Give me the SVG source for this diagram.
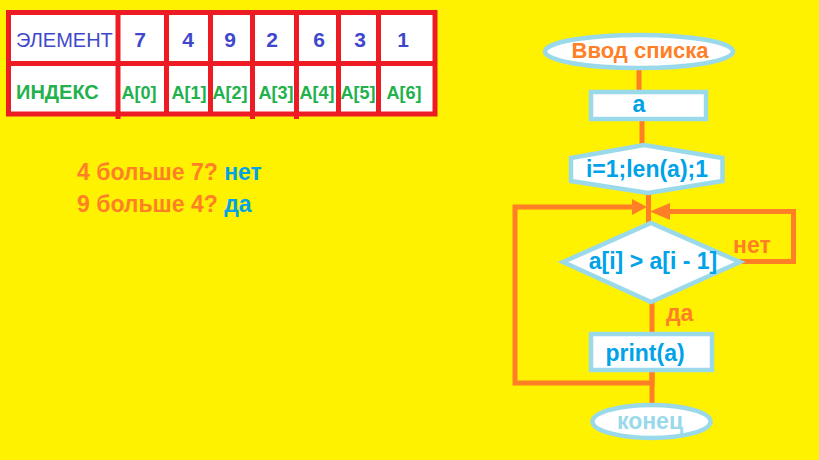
<svg xmlns="http://www.w3.org/2000/svg" width="819" height="460" viewBox="0 0 819 460">
<style>
text{font-family:"Liberation Sans",Arial,sans-serif;}
.num{font-size:21px;font-weight:bold;fill:#3f48cc;text-anchor:middle;}
.idx{font-size:18px;font-weight:bold;fill:#22b14c;text-anchor:middle;}
.grid{stroke:#ed1c24;stroke-width:5;fill:none;}
.shape{fill:#ffffff;stroke:#99d9ea;stroke-width:4.5;}
.lbl{font-size:23px;font-weight:bold;fill:#00a2e8;text-anchor:middle;}
.conn{stroke:#ff7f27;stroke-width:5;fill:none;}
.orange{fill:#ff7f27;}
.blue{fill:#00a2e8;}
</style>
<rect width="819" height="460" fill="#fff200"/>

<g id="table">
<rect x="8.5" y="12.5" width="426.5" height="101.5" fill="#ffffff"/>
<rect class="grid" x="8.5" y="12.5" width="426.5" height="101.5"/>
<line class="grid" x1="8.5" y1="63.5" x2="435" y2="63.5"/>
<line class="grid" x1="118" y1="12.5" x2="118" y2="119"/>
<line class="grid" x1="166.5" y1="12.5" x2="166.5" y2="114"/>
<line class="grid" x1="210.5" y1="12.5" x2="210.5" y2="114"/>
<line class="grid" x1="252.5" y1="12.5" x2="252.5" y2="119"/>
<line class="grid" x1="296.5" y1="12.5" x2="296.5" y2="119"/>
<line class="grid" x1="338.5" y1="12.5" x2="338.5" y2="114"/>
<line class="grid" x1="378.5" y1="12.5" x2="378.5" y2="114"/>
<text x="16" y="47" font-size="20" fill="#3f48cc">ЭЛЕМЕНТ</text>
<text x="16" y="99" font-size="20" font-weight="bold" fill="#22b14c">ИНДЕКС</text>
<text class="num" x="140" y="47">7</text>
<text class="num" x="188" y="47">4</text>
<text class="num" x="230" y="47">9</text>
<text class="num" x="272" y="47">2</text>
<text class="num" x="319" y="47">6</text>
<text class="num" x="360" y="47">3</text>
<text class="num" x="403" y="47">1</text>
<text class="idx" x="139" y="99">A[0]</text>
<text class="idx" x="189" y="99">A[1]</text>
<text class="idx" x="230" y="99">A[2]</text>
<text class="idx" x="276" y="99">A[3]</text>
<text class="idx" x="317" y="99">A[4]</text>
<text class="idx" x="358" y="99">A[5]</text>
<text class="idx" x="404" y="99">A[6]</text>
</g>

<g id="notes" font-size="23" font-weight="bold">
<text x="77" y="180" class="orange">4 больше 7? <tspan class="blue">нет</tspan></text>
<text x="77" y="212" class="orange">9 больше 4? <tspan class="blue">да</tspan></text>
</g>

<g id="connectors">
<line class="conn" x1="639" y1="70" x2="639" y2="92"/>
<line class="conn" x1="642" y1="121" x2="642" y2="145"/>
<line class="conn" x1="648.5" y1="193" x2="648.5" y2="223"/>
<polyline class="conn" points="652,372 652,383 515,383 515,207 634,207"/>
<polygon class="orange" points="632,199 647,207 632,215"/>
<polyline class="conn" points="738,261.5 793.5,261.5 793.5,211.5 668,211.5"/>
<polygon class="orange" points="670,203 650,211.5 670,220"/>
<line class="conn" x1="652" y1="302" x2="652" y2="334"/>
<line class="conn" x1="652" y1="372" x2="652" y2="403"/>
<text x="733" y="253" font-size="23" font-weight="bold" class="orange">нет</text>
<text x="666" y="321" font-size="23" font-weight="bold" class="orange">да</text>
</g>

<g id="start">
<ellipse class="shape" cx="639" cy="51.5" rx="94" ry="16.5"/>
<text x="640" y="58" font-size="22" font-weight="bold" text-anchor="middle" class="orange">Ввод списка</text>
</g>

<g id="input">
<rect class="shape" x="591" y="92" width="115" height="27"/>
<text class="lbl" x="639" y="112">a</text>
</g>

<g id="loop">
<polygon class="shape" points="571,158 644,145 722.5,158 722.5,181 648,193 571,181"/>
<text class="lbl" x="647" y="177">i=1;len(a);1</text>
</g>

<g id="condition">
<polygon class="shape" points="563,262 651,223 740,262 651,302"/>
<text class="lbl" x="653" y="269">a[i] &gt; a[i - 1]</text>
</g>

<g id="output">
<rect class="shape" x="591" y="334" width="121" height="36"/>
<text class="lbl" x="645" y="361">print(a)</text>
</g>

<g id="end">
<ellipse class="shape" cx="651.5" cy="421.5" rx="59" ry="16.5"/>
<text x="650" y="429" font-size="23" font-weight="bold" text-anchor="middle" fill="#99d9ea">конец</text>
</g>
</svg>
